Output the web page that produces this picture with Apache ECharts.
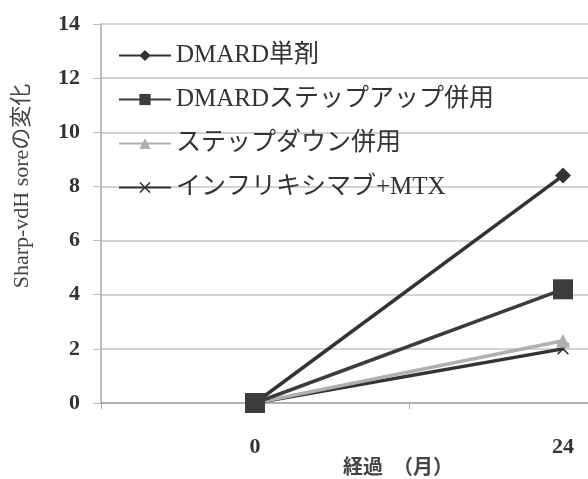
<!DOCTYPE html>
<html>
<head>
<meta charset="utf-8">
<script src="https://cdn.jsdelivr.net/npm/echarts@6/dist/echarts.min.js"></script>
<style>
  html, body { margin: 0; padding: 0; background: #fff; overflow: hidden; width: 588px; height: 479px; }
  /* The plot runs past the right edge of the page; only its left part shows */
  #chart { width: 718px; height: 479px; }
</style>
</head>
<body>
<div id="chart"></div>
<script>
// Months elapsed (category axis)
const months = ['0', '24'];

// Change in Sharp-vdH score per treatment strategy
const seriesNames = ['DMARD単剤', 'DMARDステップアップ併用', 'ステップダウン併用', 'インフリキシマブ+MTX'];
const dmardMono = [0, 8.4];
const dmardStepUp = [0, 4.2];
const stepDown = [0, 2.3];
const inflixMtx = [0, 2.0];

// Y axis range
const yMin = 0, yMax = 14, yStep = 2;

const serif = '"Liberation Serif", "DejaVu Serif", "Noto Sans CJK JP", serif';
const crossPath = 'path://M0,1L1,0L5,4L9,0L10,1L6,5L10,9L9,10L5,6L1,10L0,9L4,5Z';

const chart = echarts.init(document.getElementById('chart'), null, { renderer: 'canvas' });

function lineSeries(name, data, color, symbol, size, z) {
  return {
    name: name,
    type: 'line',
    data: data,
    symbol: symbol,
    symbolSize: size,
    z: z,
    lineStyle: { color: color, width: 3.5 },
    itemStyle: { color: color, borderWidth: 0 },
    emphasis: { disabled: true },
    animation: false
  };
}

chart.setOption({
  backgroundColor: '#ffffff',
  animation: false,
  grid: { left: 101, right: 1, top: 24, bottom: 76, containLabel: false },
  legend: {
    orient: 'vertical',
    left: 113,
    top: 38,
    itemWidth: 52,
    itemHeight: 14,
    itemGap: 19,
    data: seriesNames,
    textStyle: { fontFamily: serif, fontSize: 25, color: '#333' },
    selectedMode: false
  },
  xAxis: {
    type: 'category',
    data: months,
    boundaryGap: true,
    axisLine: { lineStyle: { color: '#a8a8a8', width: 1.5 } },
    axisTick: { show: true, length: 6, lineStyle: { color: '#a8a8a8' } },
    axisLabel: { margin: 33, fontFamily: serif, fontWeight: 'bold', fontSize: 22, color: '#333' },
    splitLine: { show: false }
  },
  yAxis: {
    type: 'value',
    min: yMin,
    max: yMax,
    interval: yStep,
    axisLine: { show: true, lineStyle: { color: '#a8a8a8', width: 1.5 } },
    axisTick: { show: true, length: 8, lineStyle: { color: '#bbbbbb' } },
    axisLabel: { margin: 21, fontFamily: serif, fontWeight: 'bold', fontSize: 22, color: '#333' },
    splitLine: { show: true, lineStyle: { color: '#c4c4c4', width: 1.5 } }
  },
  graphic: [
    {
      type: 'text',
      x: 22, y: 186,
      rotation: Math.PI / 2,
      style: {
        text: 'Sharp-vdH soreの変化',
        font: '22px ' + serif,
        fill: '#444',
        align: 'center',
        verticalAlign: 'middle'
      }
    },
    {
      type: 'text',
      x: 398, y: 466,
      style: {
        text: '経過　（月）',
        font: 'bold 20px "Noto Sans CJK JP", sans-serif',
        fill: '#444',
        align: 'center',
        verticalAlign: 'middle'
      }
    }
  ],
  series: [
    lineSeries(seriesNames[0], dmardMono, '#333333', 'diamond', 16, 3),
    lineSeries(seriesNames[1], dmardStepUp, '#3c3c3c', 'rect', 20, 6),
    lineSeries(seriesNames[2], stepDown, '#b0b0b0', 'triangle', 14, 5),
    lineSeries(seriesNames[3], inflixMtx, '#333333', crossPath, 12, 4)
  ]
});
</script>
</body>
</html>
